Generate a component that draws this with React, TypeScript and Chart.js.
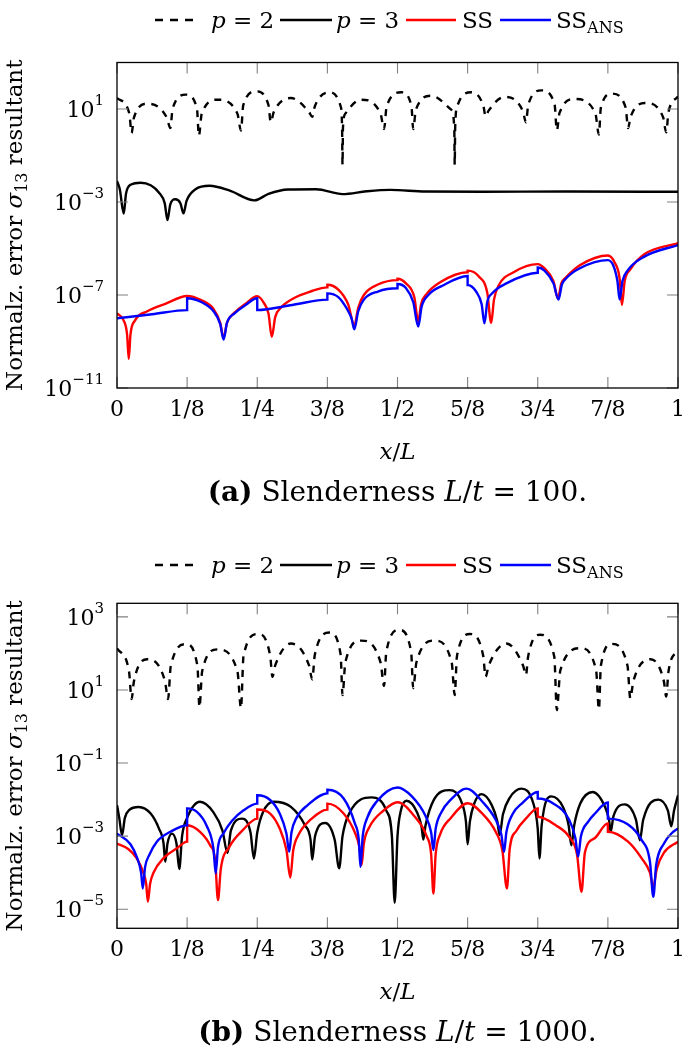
import React, { useEffect, useRef } from "react";
import { Chart, registerables } from "chart.js";

Chart.register(...registerables);

type Pt = [number, number]; // [x/L, log10(normalized error)]

const SERIF = '"DejaVu Serif", serif';

const X_TICKS = [0, 0.125, 0.25, 0.375, 0.5, 0.625, 0.75, 0.875, 1];
const X_TICK_LABELS = ["0", "1/8", "1/4", "3/8", "1/2", "5/8", "3/4", "7/8", "1"];

const A_Y_TICK_EXPONENTS = [-11, -7, -3, 1];
const A_Y_RANGE_EXPONENTS = [-11, 3];
const B_Y_TICK_EXPONENTS = [-5, -3, -1, 1, 3];
const B_Y_RANGE_EXPONENTS = [-5.52, 3.37];

const SERIES_COLORS = ["#000000", "#000000", "#ff0000", "#0000ff"];

// ---------- (a) L/t = 100 ----------
const A_P2: Pt[] = [
  [0, 1.47], [0.022, 0.8], [0.026, -0.03], [0.0302, 0.63], [0.054, 1.23], [0.0888, 0.63], [0.095, 0.18],
  [0.0992, 1.02], [0.123, 1.62], [0.1425, 1.02], [0.146, -0.15], [0.151, 0.8], [0.179, 1.4], [0.2147, 0.8],
  [0.221, 0.07], [0.225, 1.16], [0.248, 1.76], [0.2701, 1.16], [0.274, 0.43], [0.2794, 0.87], [0.31, 1.47],
  [0.3423, 0.87], [0.348, 0.66], [0.3527, 1.12], [0.379, 1.72], [0.3986, 1.12], [0.4012, 0.2], [0.402, -1.39],
  [0.4028, 0.2], [0.407, 0.8], [0.435, 1.4], [0.4698, 0.8], [0.476, 0.14], [0.4807, 1.12], [0.507, 1.72],
  [0.5249, 1.12], [0.528, 0.14], [0.5328, 0.97], [0.56, 1.57], [0.5957, 0.97], [0.6012, 0.2], [0.602, -1.39],
  [0.6028, 0.2], [0.6065, 1.12], [0.632, 1.72], [0.6532, 1.12], [0.657, 0.68], [0.6621, 0.92], [0.691, 1.52],
  [0.7233, 0.92], [0.729, 0.43], [0.7332, 1.2], [0.757, 1.8], [0.78, 1.2], [0.784, 0.08], [0.7888, 0.83],
  [0.816, 1.43], [0.8526, 0.83], [0.859, -0.1], [0.8625, 1.06], [0.882, 1.66], [0.9067, 1.06], [0.911, 0.18],
  [0.9155, 0.66], [0.941, 1.26], [0.9733, 0.66], [0.979, 0.0], [0.983, 0.85], [1.0, 1.54],
];

const A_P3: Pt[] = [
  [0, -2.1], [0.005, -2.45], [0.012, -3.5], [0.016, -2.65], [0.025, -2.25], [0.042, -2.17], [0.06, -2.28],
  [0.075, -2.6], [0.085, -3.05], [0.09, -3.78], [0.095, -3.1], [0.104, -2.88], [0.113, -3.05], [0.1185, -3.49],
  [0.124, -2.95], [0.14, -2.45], [0.165, -2.3], [0.2, -2.5], [0.245, -2.93], [0.27, -2.65], [0.305, -2.46],
  [0.355, -2.45], [0.402, -2.66], [0.445, -2.54], [0.487, -2.48], [0.55, -2.55], [0.65, -2.56], [0.8, -2.55],
  [1, -2.56],
];

const A_SS: Pt[] = [
  [0, -7.79], [0.012, -8.1], [0.018, -8.7], [0.021, -9.75], [0.024, -8.7], [0.032, -8.1], [0.054, -7.7],
  [0.086, -7.38], [0.125, -7.04],
  [0.15, -7.22], [0.172, -7.6], [0.184, -8.2], [0.19, -8.85], [0.196, -8.2], [0.21, -7.75], [0.228, -7.4],
  [0.25, -7.05],
  [0.262, -7.35], [0.27, -7.8], [0.276, -8.8], [0.282, -7.95], [0.292, -7.55], [0.315, -7.14], [0.345, -6.85],
  [0.375, -6.67], [0.375, -6.56],
  [0.395, -6.78], [0.412, -7.4], [0.423, -8.3], [0.43, -7.55], [0.44, -7.0], [0.465, -6.55], [0.5, -6.36],
  [0.5, -6.3],
  [0.515, -6.5], [0.53, -7.1], [0.537, -8.15], [0.542, -7.4], [0.552, -6.95], [0.576, -6.45], [0.625, -6.02],
  [0.625, -5.95],
  [0.645, -6.2], [0.66, -6.9], [0.667, -8.2], [0.672, -7.2], [0.68, -6.6], [0.707, -6.02], [0.75, -5.67],
  [0.762, -5.85], [0.778, -6.4], [0.786, -7.15], [0.792, -6.5], [0.8, -6.25], [0.825, -5.72], [0.875, -5.3],
  [0.887, -5.6], [0.896, -6.3], [0.9, -7.43], [0.905, -6.4], [0.915, -5.9], [0.94, -5.25], [1, -4.77],
];

const A_SSANS: Pt[] = [
  [0, -8.0], [0.0625, -7.83], [0.125, -7.65], [0.125, -7.14],
  [0.15, -7.3], [0.172, -7.7], [0.184, -8.25], [0.19, -8.92], [0.196, -8.2], [0.21, -7.78], [0.228, -7.45],
  [0.25, -7.14], [0.25, -7.65], [0.3125, -7.43], [0.375, -7.2], [0.375, -6.93],
  [0.395, -7.1], [0.41, -7.6], [0.418, -8.0], [0.423, -8.48], [0.43, -7.7], [0.44, -7.2], [0.465, -6.85],
  [0.5, -6.71], [0.5, -6.53],
  [0.515, -6.7], [0.528, -7.3], [0.537, -8.36], [0.543, -7.5], [0.555, -7.0], [0.58, -6.6], [0.625, -6.18],
  [0.625, -6.57],
  [0.64, -6.85], [0.65, -7.4], [0.655, -8.22], [0.66, -7.3], [0.668, -6.95], [0.694, -6.5], [0.75, -6.04],
  [0.75, -5.82],
  [0.762, -5.95], [0.778, -6.5], [0.787, -7.2], [0.793, -6.55], [0.8, -6.3], [0.825, -5.85], [0.875, -5.5],
  [0.885, -5.75], [0.892, -6.4], [0.896, -7.2], [0.901, -6.4], [0.91, -5.95], [0.94, -5.35], [1, -4.85],
];

// ---------- (b) L/t = 1000 ----------
const B_P2: Pt[] = [
  [0, 2.14], [0.0215, 1.5], [0.026, 0.75], [0.0302, 1.24], [0.054, 1.84], [0.0855, 1.24], [0.091, 0.75],
  [0.0958, 1.65], [0.123, 2.25], [0.1434, 1.65], [0.147, 0.53], [0.1518, 1.51], [0.179, 2.11], [0.2147, 1.51],
  [0.221, 0.5], [0.2255, 1.93], [0.251, 2.53], [0.2731, 1.93], [0.277, 1.36], [0.282, 1.67], [0.31, 2.27],
  [0.3423, 1.67], [0.348, 1.29], [0.3527, 1.97], [0.379, 2.57], [0.3986, 1.97], [0.402, 0.86], [0.407, 1.75],
  [0.435, 2.35], [0.4698, 1.75], [0.476, 1.11], [0.48, 2.04], [0.503, 2.64], [0.5243, 2.04], [0.528, 1.05],
  [0.5337, 1.75], [0.566, 2.35], [0.5966, 1.75], [0.602, 0.86], [0.606, 1.93], [0.629, 2.53], [0.6528, 1.93],
  [0.657, 1.36], [0.6626, 1.67], [0.694, 2.27], [0.7238, 1.67], [0.729, 1.41], [0.7328, 1.91], [0.754, 2.51],
  [0.7795, 1.91], [0.784, 0.45], [0.7903, 1.54], [0.826, 2.14], [0.854, 1.54], [0.859, 0.47], [0.8625, 1.66],
  [0.882, 2.26], [0.91, 1.66], [0.915, 0.77], [0.9204, 1.24], [0.951, 1.84], [0.9748, 1.24], [0.979, 0.82],
  [0.983, 1.5], [1.0, 2.11],
];

const B_P3: Pt[] = [
  [0, -2.15], [0.004, -2.5], [0.009, -2.97], [0.014, -2.5], [0.022, -2.28], [0.0385, -2.2], [0.06, -2.38],
  [0.075, -2.8], [0.083, -3.2], [0.086, -3.7], [0.09, -3.2], [0.098, -2.93], [0.106, -3.2], [0.111, -3.9],
  [0.116, -3.0], [0.125, -2.5], [0.148, -2.06], [0.172, -2.35], [0.188, -2.85], [0.197, -3.46], [0.203, -2.85],
  [0.223, -2.52], [0.238, -2.9], [0.244, -3.61], [0.25, -2.9], [0.26, -2.35], [0.279, -2.06], [0.31, -2.2],
  [0.335, -2.7], [0.345, -3.1], [0.348, -3.64], [0.353, -3.0], [0.371, -2.64], [0.388, -3.1], [0.396, -3.88],
  [0.402, -3.0], [0.415, -2.35], [0.454, -1.94], [0.48, -2.3], [0.49, -3.0], [0.495, -4.82], [0.5, -3.0],
  [0.506, -2.3], [0.516, -2.03], [0.535, -2.35], [0.543, -2.75], [0.546, -3.09], [0.55, -2.7], [0.565, -2.0],
  [0.593, -1.74], [0.615, -2.1], [0.622, -2.6], [0.625, -3.22], [0.629, -2.6], [0.637, -2.1], [0.65, -1.85],
  [0.668, -2.15], [0.678, -2.6], [0.682, -2.97], [0.688, -2.4], [0.7, -1.95], [0.721, -1.7], [0.742, -2.1],
  [0.75, -2.8], [0.753, -3.61], [0.757, -2.7], [0.774, -1.91], [0.795, -2.2], [0.805, -2.7], [0.81, -3.25],
  [0.815, -2.7], [0.826, -2.1], [0.848, -1.79], [0.87, -2.2], [0.877, -2.55], [0.88, -2.88], [0.885, -2.45],
  [0.905, -2.13], [0.925, -2.55], [0.932, -3.11], [0.938, -2.55], [0.965, -2.0], [0.982, -2.3], [0.988, -2.73],
  [0.993, -2.3], [1.0, -1.88],
];

const B_SS: Pt[] = [
  [0, -3.2], [0.02, -3.35], [0.035, -3.6], [0.047, -4.0], [0.052, -4.3], [0.055, -4.79], [0.059, -4.3],
  [0.065, -4.0], [0.083, -3.6], [0.107, -3.33], [0.125, -3.15], [0.125, -2.7],
  [0.148, -2.88], [0.166, -3.25], [0.175, -3.66], [0.18, -4.75], [0.185, -3.9], [0.2, -3.3], [0.225, -2.82],
  [0.25, -2.52], [0.25, -2.27],
  [0.273, -2.38], [0.29, -2.79], [0.302, -3.38], [0.309, -4.13], [0.314, -3.4], [0.324, -2.95], [0.345, -2.55],
  [0.375, -2.27], [0.375, -2.11],
  [0.404, -2.38], [0.424, -2.9], [0.432, -3.3], [0.436, -3.79], [0.44, -3.2], [0.45, -2.75], [0.475, -2.3],
  [0.5, -2.07],
  [0.531, -2.47], [0.552, -3.0], [0.56, -3.5], [0.564, -4.57], [0.568, -3.5], [0.576, -2.95], [0.595, -2.5],
  [0.625, -2.1],
  [0.651, -2.38], [0.675, -2.88], [0.687, -3.4], [0.695, -4.43], [0.7, -3.35], [0.712, -2.85], [0.73, -2.5],
  [0.75, -2.24], [0.75, -2.47],
  [0.782, -2.7], [0.806, -3.02], [0.82, -3.5], [0.828, -4.52], [0.834, -3.45], [0.852, -3.05], [0.875, -2.65],
  [0.875, -2.88],
  [0.911, -3.15], [0.935, -3.6], [0.95, -4.0], [0.956, -4.4], [0.962, -3.9], [0.975, -3.45], [1.0, -3.15],
];

const B_SSANS: Pt[] = [
  [0, -2.93], [0.024, -3.22], [0.036, -3.6], [0.043, -4.0], [0.046, -4.43], [0.05, -3.85], [0.058, -3.5],
  [0.071, -3.15], [0.095, -2.88], [0.125, -2.7], [0.125, -2.24],
  [0.142, -2.33], [0.16, -2.72], [0.172, -3.35], [0.176, -4.02], [0.18, -3.3], [0.19, -2.92], [0.205, -2.58],
  [0.225, -2.3], [0.25, -2.11], [0.25, -1.88],
  [0.273, -2.01], [0.29, -2.38], [0.302, -2.93], [0.307, -3.43], [0.311, -2.9], [0.32, -2.5], [0.34, -2.15],
  [0.375, -1.83], [0.375, -1.73],
  [0.404, -1.97], [0.424, -2.65], [0.431, -3.1], [0.434, -3.84], [0.438, -3.0], [0.446, -2.5], [0.463, -2.05],
  [0.5, -1.67],
  [0.526, -1.92], [0.55, -2.45], [0.56, -2.9], [0.564, -3.38], [0.568, -2.8], [0.578, -2.35], [0.595, -2.0],
  [0.623, -1.7],
  [0.651, -2.05], [0.675, -2.55], [0.685, -2.95], [0.69, -3.43], [0.694, -2.9], [0.705, -2.4], [0.722, -2.1],
  [0.75, -1.79], [0.75, -1.97],
  [0.777, -2.1], [0.806, -2.55], [0.817, -3.05], [0.822, -3.56], [0.827, -3.0], [0.84, -2.6], [0.852, -2.38],
  [0.875, -2.08], [0.875, -2.52],
  [0.911, -2.68], [0.935, -3.1], [0.95, -3.7], [0.956, -4.66], [0.961, -3.8], [0.975, -3.2], [0.99, -2.9],
  [1.0, -2.79],
];

// ---------- layout ----------
const PAGE_W = 685;
const PLOT_LEFT = 117;
const PLOT_RIGHT = 678;
const TICK_LEN = 11;
const LINE_W = 2.4;

const F_TICK = `22px ${SERIF}`;
const F_EXP = `15px ${SERIF}`;
const F_YT = `23px ${SERIF}`;
const F_YT_I = `italic 23px ${SERIF}`;
const F_YT_SUB = `16px ${SERIF}`;
const F_LEG = `23px ${SERIF}`;
const F_LEG_I = `italic 23px ${SERIF}`;
const F_LEG_SUB = `16px ${SERIF}`;
const F_XT = `23px ${SERIF}`;
const F_XT_I = `italic 23px ${SERIF}`;
const F_CAP = `28px ${SERIF}`;
const F_CAP_B = `bold 28px ${SERIF}`;
const F_CAP_I = `italic 28px ${SERIF}`;

const LEG = {
  dash: [155, 199], p2: 211, solid: [280, 332], p3: 336, red: [406, 456], ss: 462, blue: [500, 551], ssans: 556,
};

type Run = { t: string; f: string; dy?: number };

function runsWidth(ctx: CanvasRenderingContext2D, runs: Run[]) {
  let w = 0;
  for (const r of runs) {
    ctx.font = r.f;
    w += ctx.measureText(r.t).width;
  }
  return w;
}

function drawRuns(ctx: CanvasRenderingContext2D, runs: Run[], x: number, y: number, align: string) {
  const w = runsWidth(ctx, runs);
  let cx = align === "left" ? x : align === "center" ? x - w / 2 : x - w;
  ctx.textAlign = "left";
  ctx.textBaseline = "alphabetic";
  for (const r of runs) {
    ctx.font = r.f;
    ctx.fillText(r.t, cx, y + (r.dy || 0));
    cx += ctx.measureText(r.t).width;
  }
}

function toData(pts: Pt[]) {
  return pts.map(([x, e]) => ({ x, y: Math.pow(10, e) }));
}

interface PanelProps {
  canvasTop: number;
  canvasHeight: number;
  plotTop: number;
  plotBottom: number;
  legendY: number;
  yRange: number[];
  yTicks: number[];
  series: Pt[][];
  tag: string;
  slenderness: string;
}

function Panel(props: PanelProps) {
  const ref = useRef<HTMLCanvasElement | null>(null);
  useEffect(() => {
    const canvas = ref.current;
    if (!canvas) return;
    const { canvasTop, canvasHeight, plotTop, plotBottom, legendY, yRange, yTicks, series, tag, slenderness } = props;

    const decor = {
      id: "decor",
      afterDraw(chart: any) {
        const ctx: CanvasRenderingContext2D = chart.ctx;
        const ca = chart.chartArea;
        const xs = chart.scales.x;
        const ys = chart.scales.y;
        ctx.save();
        // inner tick marks
        ctx.strokeStyle = "#808080";
        ctx.lineWidth = 1.1;
        ctx.beginPath();
        for (const t of xs.ticks) {
          const px = xs.getPixelForValue(t.value);
          ctx.moveTo(px, ca.bottom);
          ctx.lineTo(px, ca.bottom - TICK_LEN);
          ctx.moveTo(px, ca.top);
          ctx.lineTo(px, ca.top + TICK_LEN);
        }
        for (const t of ys.ticks) {
          const py = ys.getPixelForValue(t.value);
          ctx.moveTo(ca.left, py);
          ctx.lineTo(ca.left + TICK_LEN, py);
          ctx.moveTo(ca.right, py);
          ctx.lineTo(ca.right - TICK_LEN, py);
        }
        ctx.stroke();
        // frame
        ctx.strokeStyle = "#000";
        ctx.lineWidth = 1.3;
        ctx.strokeRect(ca.left, ca.top, ca.right - ca.left, ca.bottom - ca.top);

        ctx.fillStyle = "#000";
        // x tick labels
        xs.ticks.forEach((t: any, i: number) => {
          const px = xs.getPixelForValue(t.value);
          drawRuns(ctx, [{ t: X_TICK_LABELS[i], f: F_TICK }], px, ca.bottom + 28, "center");
        });
        // y tick labels 10^e
        for (const t of ys.ticks) {
          const py = ys.getPixelForValue(t.value);
          const e = Math.round(Math.log10(t.value));
          const es = e < 0 ? "\u2212" + String(-e) : String(e);
          drawRuns(ctx, [{ t: "10", f: F_TICK }, { t: es, f: F_EXP, dy: -12 }], ca.left - 13, py + 8, "right");
        }
        // x axis title
        const cx = (ca.left + ca.right) / 2;
        drawRuns(ctx, [{ t: "x", f: F_XT_I }, { t: "/", f: F_XT }, { t: "L", f: F_XT_I }], cx, ca.bottom + 71, "center");
        // y axis title (rotated)
        ctx.save();
        ctx.translate(22, (ca.top + ca.bottom) / 2);
        ctx.rotate(-Math.PI / 2);
        drawRuns(
          ctx,
          [
            { t: "Normalz. error ", f: F_YT },
            { t: "\u03c3", f: F_YT_I },
            { t: "13", f: F_YT_SUB, dy: 5 },
            { t: " resultant", f: F_YT },
          ],
          0,
          0,
          "center"
        );
        ctx.restore();
        // legend
        const ly = legendY - canvasTop;
        const seg = (x0: number, x1: number, color: string, dash: number[]) => {
          ctx.save();
          ctx.strokeStyle = color;
          ctx.lineWidth = LINE_W;
          ctx.setLineDash(dash);
          ctx.beginPath();
          ctx.moveTo(x0, ly);
          ctx.lineTo(x1, ly);
          ctx.stroke();
          ctx.restore();
        };
        seg(LEG.dash[0], LEG.dash[1], SERIES_COLORS[0], [8, 7]);
        seg(LEG.solid[0], LEG.solid[1], SERIES_COLORS[1], []);
        seg(LEG.red[0], LEG.red[1], SERIES_COLORS[2], []);
        seg(LEG.blue[0], LEG.blue[1], SERIES_COLORS[3], []);
        drawRuns(ctx, [{ t: "p", f: F_LEG_I }, { t: " = 2", f: F_LEG }], LEG.p2, ly + 8, "left");
        drawRuns(ctx, [{ t: "p", f: F_LEG_I }, { t: " = 3", f: F_LEG }], LEG.p3, ly + 8, "left");
        drawRuns(ctx, [{ t: "SS", f: F_LEG }], LEG.ss, ly + 8, "left");
        drawRuns(ctx, [{ t: "SS", f: F_LEG }, { t: "ANS", f: F_LEG_SUB, dy: 5 }], LEG.ssans, ly + 8, "left");
        // caption
        drawRuns(
          ctx,
          [
            { t: "(" + tag + ")", f: F_CAP_B },
            { t: " Slenderness ", f: F_CAP },
            { t: "L", f: F_CAP_I },
            { t: "/", f: F_CAP },
            { t: "t", f: F_CAP_I },
            { t: " = " + slenderness + ".", f: F_CAP },
          ],
          cx,
          ca.bottom + 113,
          "center"
        );
        ctx.restore();
      },
    };

    const mk = (pts: Pt[], color: string, dash: number[], order: number) => ({
      data: toData(pts),
      borderColor: color,
      borderWidth: LINE_W,
      borderDash: dash,
      pointRadius: 0,
      pointHoverRadius: 0,
      fill: false,
      cubicInterpolationMode: "monotone",
      order,
    });

    const chart = new Chart(canvas, {
      type: "line",
      data: {
        datasets: [
          mk(series[0], SERIES_COLORS[0], [7, 6.5], 3),
          mk(series[1], SERIES_COLORS[1], [], 2),
          mk(series[2], SERIES_COLORS[2], [], 1),
          mk(series[3], SERIES_COLORS[3], [], 0),
        ] as any,
      },
      options: {
        responsive: false,
        animation: false,
        devicePixelRatio: 1,
        events: [],
        layout: { padding: { left: 0, right: PAGE_W - PLOT_RIGHT, top: plotTop - canvasTop, bottom: 0 } },
        plugins: { legend: { display: false }, tooltip: { enabled: false }, title: { display: false } },
        scales: {
          x: {
            type: "linear",
            min: 0,
            max: 1,
            grid: { display: false },
            border: { display: false },
            ticks: { display: false },
            afterBuildTicks: (s: any) => {
              s.ticks = X_TICKS.map((v) => ({ value: v }));
            },
            afterFit: (s: any) => {
              s.height = canvasHeight - (plotBottom - canvasTop);
            },
          },
          y: {
            type: "logarithmic",
            min: Math.pow(10, yRange[0]),
            max: Math.pow(10, yRange[1]),
            grid: { display: false },
            border: { display: false },
            ticks: { display: false },
            afterBuildTicks: (s: any) => {
              s.ticks = yTicks.map((e) => ({ value: Math.pow(10, e) }));
            },
            afterFit: (s: any) => {
              s.width = PLOT_LEFT;
            },
          },
        },
      } as any,
      plugins: [decor],
    });
    return () => chart.destroy();
  }, []);

  return (
    <canvas
      ref={ref}
      width={PAGE_W}
      height={props.canvasHeight}
      style={{ position: "absolute", left: 0, top: props.canvasTop, width: PAGE_W, height: props.canvasHeight }}
    />
  );
}

export default function App() {
  return (
    <div style={{ position: "absolute", left: 0, top: 0, width: PAGE_W, height: 1051, overflow: "hidden", background: "#fff" }}>
      <Panel
        canvasTop={0}
        canvasHeight={520}
        plotTop={62.5}
        plotBottom={388}
        legendY={20}
        yRange={A_Y_RANGE_EXPONENTS}
        yTicks={A_Y_TICK_EXPONENTS}
        series={[A_P2, A_P3, A_SS, A_SSANS]}
        tag="a"
        slenderness="100"
      />
      <Panel
        canvasTop={530}
        canvasHeight={518}
        plotTop={603.3}
        plotBottom={928.3}
        legendY={565}
        yRange={B_Y_RANGE_EXPONENTS}
        yTicks={B_Y_TICK_EXPONENTS}
        series={[B_P2, B_P3, B_SS, B_SSANS]}
        tag="b"
        slenderness="1000"
      />
    </div>
  );
}
